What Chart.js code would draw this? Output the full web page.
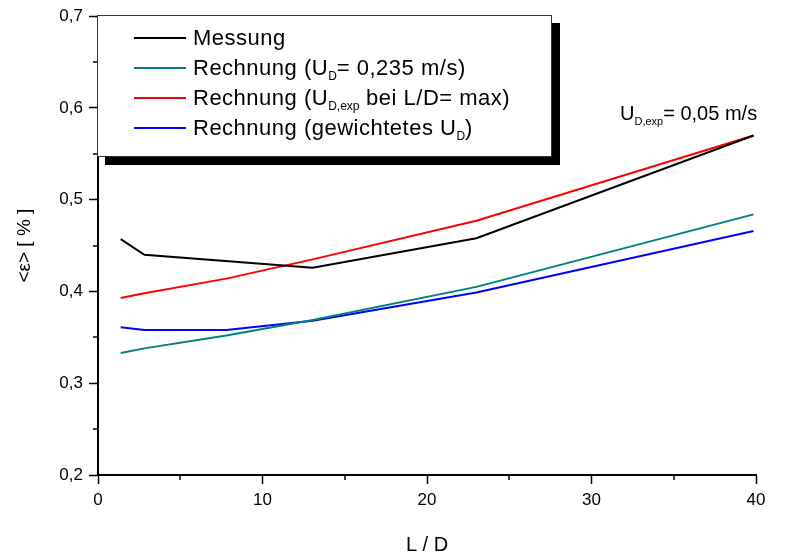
<!DOCTYPE html>
<html lang="de">
<head>
<meta charset="UTF-8">
<title>Messung und Rechnung</title>
<style>
    body { margin: 0; background: #fff; font-family: Arial, "Liberation Sans", sans-serif; }
    #wrap { position: relative; width: 785px; height: 560px; }
    #legend {
        position: absolute; left: 97px; top: 15px; width: 455px; height: 142px;
        border: 1px solid #333; background: #fff; box-shadow: 8px 8px 0 #000;
        padding-top: 7px; box-sizing: border-box;
    }
    .row { position: relative; height: 30px; line-height: 30px; font-size: 22px; letter-spacing: 0.5px; color: #000; padding-left: 95px; white-space: nowrap; }
    .sw { position: absolute; left: 36px; top: 14px; width: 52px; height: 2px; }
    sub { font-size: 12px; letter-spacing: 0; position: relative; top: 5px; vertical-align: baseline; }
    #note { position: absolute; left: 620px; top: 102px; font-size: 20px; white-space: nowrap; }
    #note sub { font-size: 11px; }
</style>
</head>
<body>
<div id="wrap">
    <canvas id="chart" width="785" height="560"></canvas>
    <div id="legend"></div>
    <div id="note">U<sub>D,exp</sub>= 0,05 m/s</div>
</div>
<script src="https://cdn.jsdelivr.net/npm/chart.js"></script>
<script>
    // L/D positions
    const xMessung = [1.38, 2.82, 13.05, 23.0, 39.85];
    const xRechnung = [1.38, 2.82, 7.8, 13.05, 23.0, 39.85];

    // <eps> [%]
    const messung = [0.457, 0.440, 0.426, 0.458, 0.570];
    const rechnungKonst = [0.333, 0.338, 0.352, 0.369, 0.405, 0.484];
    const rechnungMax = [0.393, 0.398, 0.414, 0.435, 0.477, 0.570];
    const rechnungGew = [0.361, 0.358, 0.358, 0.368, 0.399, 0.466];

    const labels = [
        'Messung',
        'Rechnung (U_D= 0,235 m/s)',
        'Rechnung (U_D,exp bei L/D= max)',
        'Rechnung (gewichtetes U_D)'
    ];
    const legendHtml = [
        'Messung',
        'Rechnung (U<sub>D</sub>= 0,235 m/s)',
        'Rechnung (U<sub>D,exp</sub> bei L/D= max)',
        'Rechnung (gewichtetes U<sub>D</sub>)'
    ];
    const colors = ['#000000', '#008080', '#ff0000', '#0000ff'];

    const xTicks = [0, 10, 20, 30, 40];
    const yTicks = [0.2, 0.3, 0.4, 0.5, 0.6, 0.7];

    function pts(xs, ys) {
        return xs.map((x, i) => ({ x: x, y: ys[i] }));
    }

    const series = [
        pts(xMessung, messung),
        pts(xRechnung, rechnungKonst),
        pts(xRechnung, rechnungMax),
        pts(xRechnung, rechnungGew)
    ];

    // short minor ticks halfway between the labelled ones
    const minorTicks = {
        id: 'minorTicks',
        afterDraw(chart) {
            const ctx = chart.ctx;
            const xs = chart.scales.x, ys = chart.scales.y;
            ctx.save();
            ctx.strokeStyle = '#000';
            ctx.lineWidth = 1.5;
            ctx.beginPath();
            for (let i = 0; i < xTicks.length - 1; i++) {
                const px = Math.round(xs.getPixelForValue((xTicks[i] + xTicks[i + 1]) / 2));
                ctx.moveTo(px, xs.top);
                ctx.lineTo(px, xs.top + 5);
            }
            for (let i = 0; i < yTicks.length - 1; i++) {
                const py = Math.round(ys.getPixelForValue((yTicks[i] + yTicks[i + 1]) / 2));
                ctx.moveTo(ys.right, py);
                ctx.lineTo(ys.right - 5, py);
            }
            ctx.stroke();
            ctx.restore();
        }
    };

    const fam = 'Arial, "Liberation Sans", sans-serif';
    const tickFont = { family: fam, size: 17 };
    const titleFont = { family: fam, size: 20 };

    new Chart(document.getElementById('chart'), {
        type: 'line',
        data: {
            datasets: series.map((d, i) => ({
                label: labels[i],
                data: d,
                borderColor: colors[i],
                backgroundColor: colors[i],
                borderWidth: 2,
                pointRadius: 0,
                tension: 0,
                fill: false
            }))
        },
        options: {
            responsive: false,
            animation: false,
            layout: { padding: { top: 15, right: 29, left: 0, bottom: 0 } },
            plugins: { legend: { display: false }, tooltip: { enabled: false } },
            scales: {
                x: {
                    type: 'linear',
                    min: 0, max: 40,
                    afterFit: s => { s.height = 85; },
                    afterBuildTicks: s => { s.ticks = xTicks.map(v => ({ value: v })); },
                    ticks: { color: '#000', font: tickFont, padding: 6, maxRotation: 0 },
                    grid: { drawOnChartArea: false, drawTicks: true, tickLength: 9, tickColor: '#000', tickWidth: 1.5 },
                    border: { display: true, color: '#000', width: 2 },
                    title: { display: true, text: 'L / D', color: '#000', font: titleFont, padding: { bottom: 3 } }
                },
                y: {
                    type: 'linear',
                    min: 0.2, max: 0.7,
                    afterFit: s => { s.width = 98; },
                    afterBuildTicks: s => { s.ticks = yTicks.map(v => ({ value: v })); },
                    ticks: {
                        color: '#000', font: tickFont, padding: 6,
                        callback: v => v.toFixed(1).replace('.', ',')
                    },
                    grid: { drawOnChartArea: false, drawTicks: true, tickLength: 9, tickColor: '#000', tickWidth: 1.5 },
                    border: { display: true, color: '#000', width: 2 },
                    title: { display: true, text: '<ε> [ % ]', color: '#000', font: { family: fam, size: 19 }, padding: { top: 13 } }
                }
            }
        },
        plugins: [minorTicks]
    });

    const legend = document.getElementById('legend');
    legendHtml.forEach((t, i) => {
        const row = document.createElement('div');
        row.className = 'row';
        row.innerHTML = '<span class="sw" style="background:' + colors[i] + '"></span>' + t;
        legend.appendChild(row);
    });
</script>
</body>
</html>
